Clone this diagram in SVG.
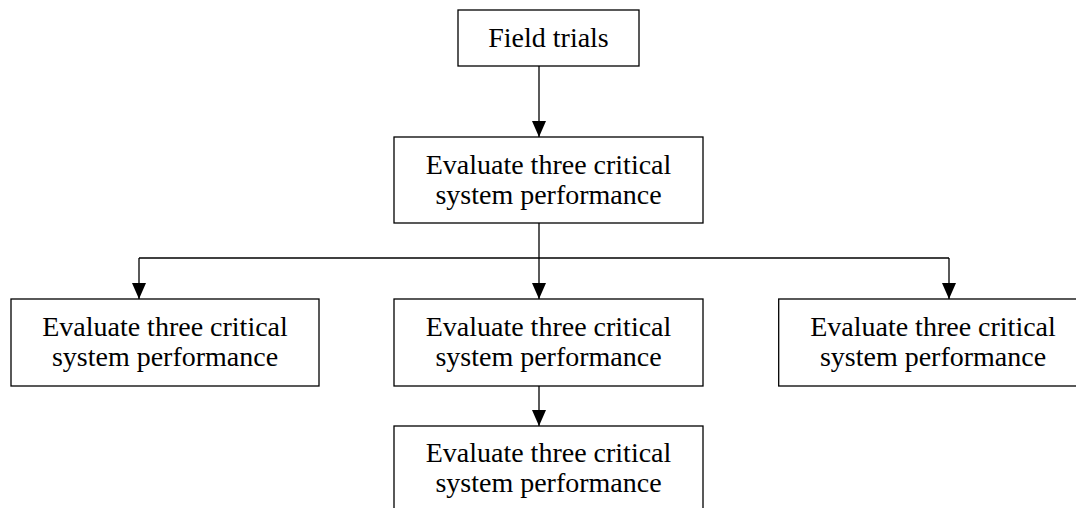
<svg xmlns="http://www.w3.org/2000/svg" width="1076" height="508" viewBox="0 0 1076 508">
<style>
.box{fill:#fff;stroke:#000;stroke-width:1.3}
.t{font-family:"Liberation Serif","Times New Roman",serif;font-size:28px;fill:#000;text-anchor:middle}
.c{fill:none;stroke:#000;stroke-width:1.3}
</style>
<defs>
<marker id="ah" markerUnits="userSpaceOnUse" markerWidth="16" markerHeight="14" refX="16" refY="7" orient="auto" viewBox="0 0 16 14">
<path d="M0,0 L16,7 L0,14 Z" fill="#000"/>
</marker>
</defs>
<rect width="1076" height="508" fill="#fff"/>
<g id="connectors">
<path class="c" d="M539,66 V137" marker-end="url(#ah)"/>
<path class="c" d="M539,223 V299" marker-end="url(#ah)"/>
<path class="c" d="M139,258 H949"/>
<path class="c" d="M139,258 V299" marker-end="url(#ah)"/>
<path class="c" d="M949,258 V299" marker-end="url(#ah)"/>
<path class="c" d="M539,386 V426" marker-end="url(#ah)"/>
</g>
<g id="n-field">
<rect class="box" x="458" y="10" width="181" height="56"/>
<text class="t" x="548.5" y="47">Field trials</text>
</g>
<g id="n-eval-main">
<rect class="box" x="394" y="137" width="309" height="86"/>
<text class="t" x="548.5" y="174">Evaluate three critical</text>
<text class="t" x="548.5" y="204">system performance</text>
</g>
<g id="n-left">
<rect class="box" x="11" y="299" width="308" height="87"/>
<text class="t" x="165" y="336">Evaluate three critical</text>
<text class="t" x="165" y="366">system performance</text>
</g>
<g id="n-mid">
<rect class="box" x="394" y="299" width="309" height="87"/>
<text class="t" x="548.5" y="336">Evaluate three critical</text>
<text class="t" x="548.5" y="366">system performance</text>
</g>
<g id="n-right">
<rect class="box" x="778.7" y="299" width="308" height="87"/>
<text class="t" x="933" y="336">Evaluate three critical</text>
<text class="t" x="933" y="366">system performance</text>
</g>
<g id="n-bottom">
<rect class="box" x="394" y="426" width="309" height="88"/>
<text class="t" x="548.5" y="462">Evaluate three critical</text>
<text class="t" x="548.5" y="492">system performance</text>
</g>
</svg>
